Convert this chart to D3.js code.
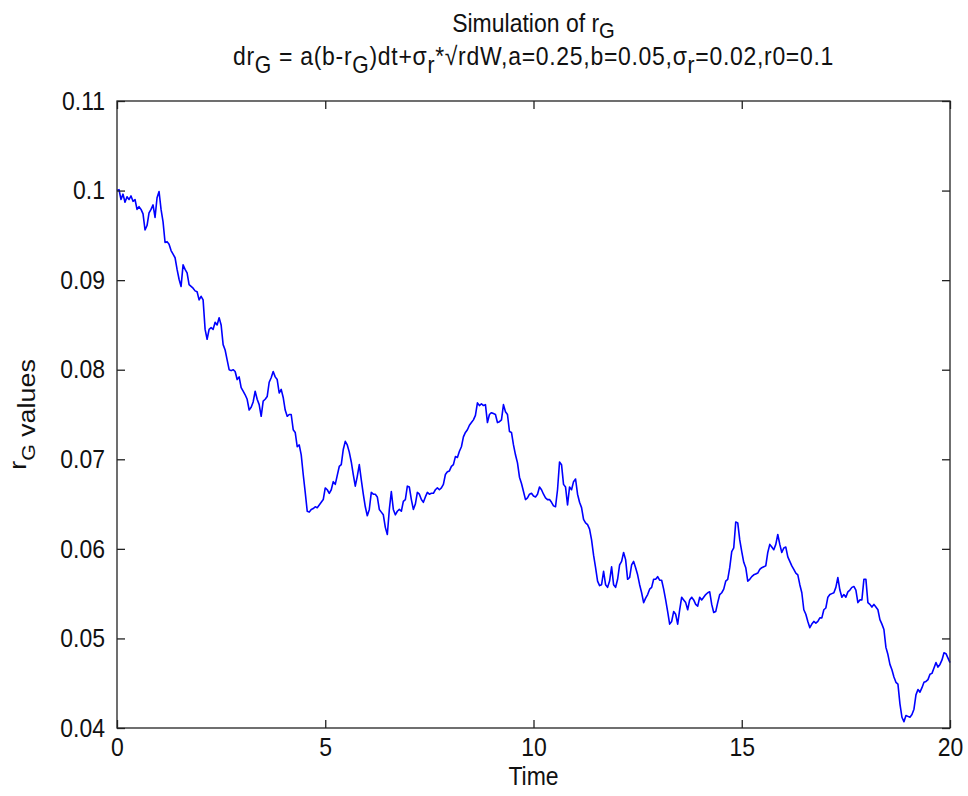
<!DOCTYPE html>
<html>
<head>
<meta charset="utf-8">
<script src="https://cdn.jsdelivr.net/npm/d3@7/dist/d3.min.js"></script>
<style>
  html, body { margin: 0; padding: 0; background: #fff; }
  svg { display: block; }
  text { font-family: "Liberation Sans", Arial, Helvetica, sans-serif; fill: #111; }
</style>
</head>
<body>
<script>
// Simulated short rate path r_G over 20 years (one value per step)
const rates = [
  0.1000,0.1001,0.0990,0.0996,0.0987,0.0993,0.0990,0.0994,0.0988,0.0990,
  0.0979,0.0982,0.0979,0.0974,0.0956,0.0961,0.0975,0.0979,0.0984,0.0970,
  0.0992,0.0999,0.0979,0.0965,0.0942,0.0943,0.0940,0.0933,0.0929,0.0925,
  0.0912,0.0901,0.0893,0.0917,0.0912,0.0908,0.0895,0.0893,0.0891,0.0888,
  0.0887,0.0878,0.0882,0.0878,0.0845,0.0834,0.0845,0.0847,0.0845,0.0853,
  0.0850,0.0858,0.0850,0.0828,0.0822,0.0811,0.0800,0.0799,0.0800,0.0798,
  0.0789,0.0792,0.0780,0.0776,0.0772,0.0767,0.0755,0.0758,0.0764,0.0776,
  0.0767,0.0761,0.0748,0.0765,0.0767,0.0770,0.0786,0.0791,0.0798,0.0792,
  0.0789,0.0774,0.0778,0.0769,0.0755,0.0748,0.0750,0.0750,0.0733,0.0730,
  0.0714,0.0716,0.0705,0.0683,0.0663,0.0642,0.0641,0.0644,0.0645,0.0647,
  0.0646,0.0649,0.0652,0.0655,0.0668,0.0666,0.0662,0.0666,0.0675,0.0672,
  0.0682,0.0692,0.0694,0.0711,0.0720,0.0716,0.0708,0.0697,0.0683,0.0670,
  0.0681,0.0694,0.0677,0.0661,0.0647,0.0637,0.0644,0.0663,0.0661,0.0661,
  0.0658,0.0644,0.0641,0.0638,0.0624,0.0616,0.0644,0.0664,0.0644,0.0638,
  0.0642,0.0644,0.0642,0.0653,0.0655,0.0670,0.0669,0.0655,0.0644,0.0650,
  0.0663,0.0661,0.0655,0.0652,0.0658,0.0663,0.0661,0.0662,0.0662,0.0666,
  0.0668,0.0666,0.0668,0.0672,0.0683,0.0686,0.0687,0.0692,0.0694,0.0703,
  0.0702,0.0709,0.0714,0.0725,0.0730,0.0733,0.0738,0.0741,0.0744,0.0749,
  0.0763,0.0760,0.0762,0.0760,0.0761,0.0741,0.0750,0.0752,0.0751,0.0750,
  0.0741,0.0742,0.0744,0.0761,0.0753,0.0750,0.0731,0.0730,0.0716,0.0705,
  0.0696,0.0680,0.0673,0.0664,0.0655,0.0657,0.0661,0.0662,0.0659,0.0658,
  0.0661,0.0669,0.0666,0.0661,0.0657,0.0655,0.0655,0.0652,0.0648,0.0647,
  0.0666,0.0697,0.0694,0.0672,0.0669,0.0649,0.0669,0.0666,0.0675,0.0678,
  0.0661,0.0652,0.0646,0.0633,0.0629,0.0627,0.0622,0.0610,0.0593,0.0579,
  0.0564,0.0559,0.0560,0.0575,0.0560,0.0557,0.0564,0.0580,0.0560,0.0557,
  0.0566,0.0582,0.0586,0.0596,0.0588,0.0566,0.0568,0.0582,0.0586,0.0579,
  0.0571,0.0560,0.0551,0.0540,0.0545,0.0549,0.0555,0.0557,0.0566,0.0566,
  0.0569,0.0565,0.0565,0.0555,0.0543,0.0530,0.0516,0.0519,0.0530,0.0527,
  0.0516,0.0532,0.0546,0.0543,0.0540,0.0532,0.0543,0.0546,0.0543,0.0538,
  0.0536,0.0546,0.0543,0.0546,0.0549,0.0551,0.0552,0.0538,0.0529,0.0530,
  0.0540,0.0549,0.0551,0.0555,0.0564,0.0566,0.0579,0.0597,0.0601,0.0630,
  0.0629,0.0610,0.0597,0.0585,0.0579,0.0564,0.0566,0.0569,0.0571,0.0572,
  0.0573,0.0577,0.0579,0.0580,0.0581,0.0596,0.0605,0.0602,0.0599,0.0605,
  0.0616,0.0605,0.0596,0.0601,0.0602,0.0591,0.0586,0.0581,0.0577,0.0573,
  0.0571,0.0560,0.0551,0.0532,0.0527,0.0519,0.0512,0.0516,0.0519,0.0517,
  0.0519,0.0523,0.0523,0.0532,0.0534,0.0546,0.0549,0.0550,0.0551,0.0557,
  0.0568,0.0554,0.0546,0.0549,0.0546,0.0552,0.0554,0.0557,0.0558,0.0554,
  0.0540,0.0543,0.0543,0.0566,0.0566,0.0540,0.0538,0.0535,0.0538,0.0535,
  0.0532,0.0521,0.0516,0.0510,0.0490,0.0482,0.0471,0.0465,0.0457,0.0451,
  0.0449,0.0427,0.0412,0.0407,0.0414,0.0413,0.0412,0.0415,0.0421,0.0437,
  0.0443,0.0440,0.0445,0.0451,0.0452,0.0454,0.0460,0.0461,0.0467,0.0473,
  0.0468,0.0471,0.0476,0.0484,0.0483,0.0478,0.0473
];

const horizon = 20;                        // years simulated
const timeTicks = [0, 5, 10, 15, 20];
const rateTicks = [0.04, 0.05, 0.06, 0.07, 0.08, 0.09, 0.1, 0.11];
const rateTickLabels = ["0.04", "0.05", "0.06", "0.07", "0.08", "0.09", "0.1", "0.11"];

const W = 968, H = 796;
const m = { left: 117, top: 101, right: 18, bottom: 68 };
const iw = W - m.left - m.right, ih = H - m.top - m.bottom;
const fs = 23;
const tall = 1.12;   // glyphs are drawn slightly taller than wide

const svg = d3.select("body").append("svg").attr("width", W).attr("height", H);
svg.append("rect").attr("width", W).attr("height", H).attr("fill", "#fff");

const dt = horizon / (rates.length - 1);
const series = rates.map((r, i) => ({ t: i * dt, r }));

const x = d3.scaleLinear().domain([0, horizon]).range([0, iw]);
const y = d3.scaleLinear().domain([0.04, 0.11]).range([ih, 0]);

const g = svg.append("g").attr("transform", `translate(${m.left},${m.top})`);

// rate path
g.append("path")
  .datum(series)
  .attr("fill", "none")
  .attr("stroke", "#0000ff")
  .attr("stroke-width", 1.6)
  .attr("stroke-linejoin", "round")
  .attr("d", d3.line().x(d => x(d.t)).y(d => y(d.r)));

function styleAxis(sel) {
  sel.select(".domain").remove();
  sel.selectAll(".tick line").attr("stroke", "#222").attr("stroke-width", 1.3);
  sel.selectAll("text").attr("font-size", fs).attr("fill", "#111")
     .attr("font-family", '"Liberation Sans", Arial, sans-serif')
     .attr("transform", `scale(1,${tall})`);
}

// bottom / left axes with labels, ticks pointing inward
g.append("g").attr("transform", `translate(0,${ih})`)
  .call(d3.axisBottom(x).tickValues(timeTicks).tickSizeInner(-8).tickSizeOuter(0).tickPadding(9).tickFormat(d3.format("d")))
  .call(styleAxis);
g.append("g")
  .call(d3.axisLeft(y).tickValues(rateTicks).tickSizeInner(-8).tickSizeOuter(0).tickPadding(12)
        .tickFormat((d, i) => rateTickLabels[i]))
  .call(styleAxis);
// mirrored ticks on top / right
g.append("g")
  .call(d3.axisTop(x).tickValues(timeTicks).tickSizeInner(-8).tickSizeOuter(0).tickFormat(""))
  .call(styleAxis);
g.append("g").attr("transform", `translate(${iw},0)`)
  .call(d3.axisRight(y).tickValues(rateTicks).tickSizeInner(-8).tickSizeOuter(0).tickFormat(""))
  .call(styleAxis);

// axes box
g.append("rect").attr("width", iw).attr("height", ih)
  .attr("fill", "none").attr("stroke", "#222").attr("stroke-width", 1.3);

const cx = m.left + iw / 2;

function hText(xp, yp) {
  return svg.append("text")
    .attr("transform", `translate(${xp},${yp}) scale(1,${tall})`)
    .attr("text-anchor", "middle").attr("font-size", fs);
}

// title, two lines with subscripts
const t1 = hText(cx, 32);
t1.append("tspan").text("Simulation of r");
t1.append("tspan").attr("dy", 5).attr("font-size", fs * 0.88).text("G");

const t2 = hText(cx, 65).attr("letter-spacing", 0.7);
const parts2 = [
  ["dr", 0], ["G", 1], [" = a(b-r", 0], ["G", 1], [")dt+σ", 0], ["r", 1],
  ["*√rdW,a=0.25,b=0.05,σ", 0], ["r", 1], ["=0.02,r0=0.1", 0]
];
let down = false;
parts2.forEach(([s, sub]) => {
  const sp = t2.append("tspan").text(s);
  if (sub) sp.attr("font-size", fs * 0.92);
  if (sub && !down) { sp.attr("dy", 7); down = true; }
  else if (!sub && down) { sp.attr("dy", -7); down = false; }
});

// axis labels
hText(cx, 785).text("Time");

const yl = svg.append("text")
  .attr("transform", `translate(35,${m.top + ih / 2}) rotate(-90) scale(${tall},1)`)
  .attr("text-anchor", "middle").attr("font-size", 24);
yl.append("tspan").attr("dy", -9).text("r");
yl.append("tspan").attr("dy", 9).attr("font-size", 19).text("G");
yl.append("tspan").text(" values");
</script>
</body>
</html>
